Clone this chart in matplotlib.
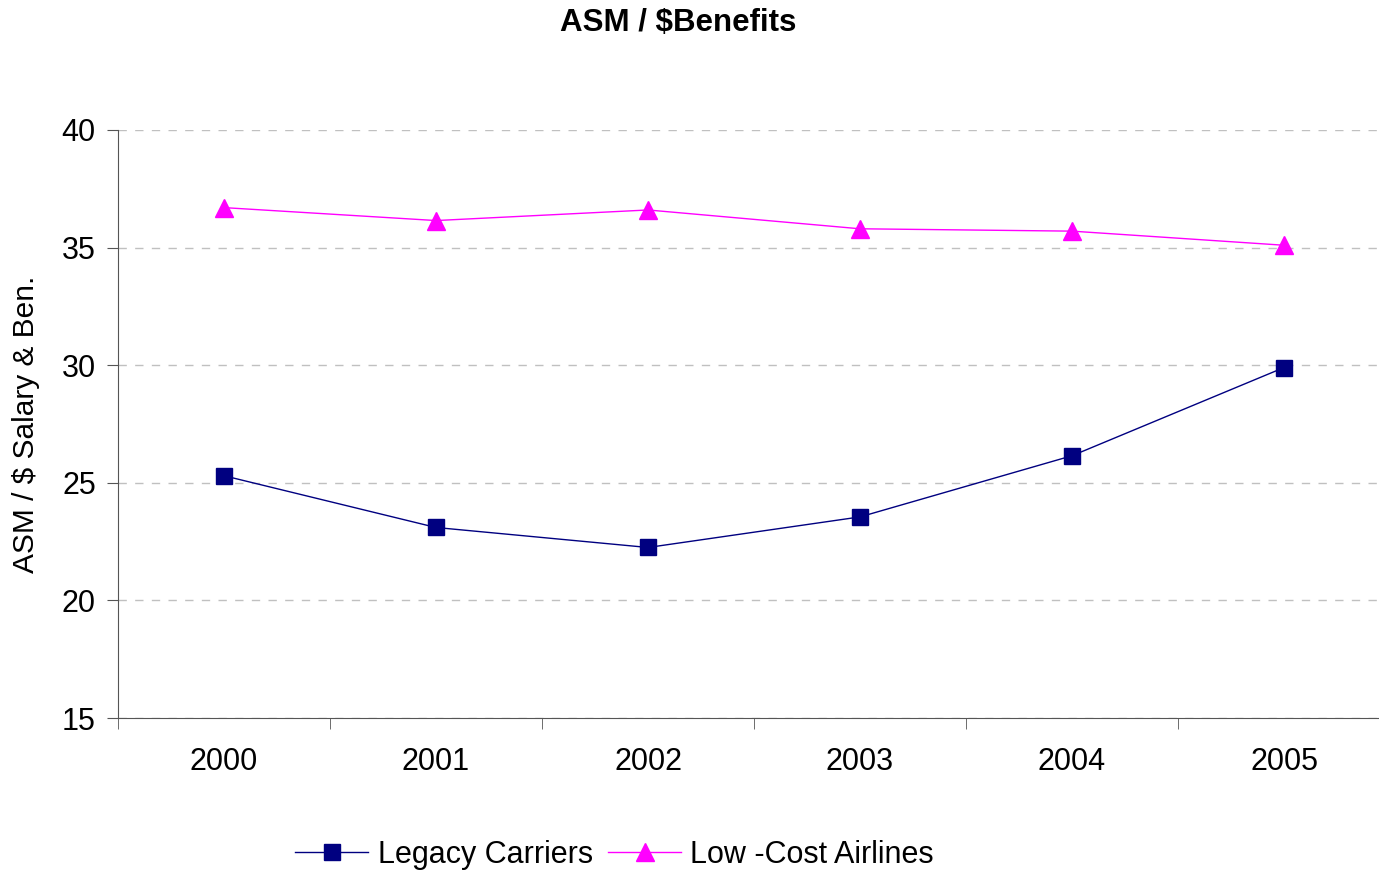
import matplotlib
matplotlib.use("Agg")
import matplotlib.pyplot as plt
import numpy as np

plt.rcParams['font.family'] = ['Liberation Sans', 'DejaVu Sans']

years = ['2000', '2001', '2002', '2003', '2004', '2005']
legacy = [25.3, 23.1, 22.25, 23.55, 26.15, 29.9]
low_cost = [36.7, 36.15, 36.6, 35.8, 35.7, 35.1]

fig = plt.figure(figsize=(13.79, 8.71), dpi=100)
ax = fig.add_axes([118 / 1379, 153 / 871, 1272 / 1379, 588 / 871])

x = np.arange(len(years))
ax.plot(x, legacy, color='#000080', linewidth=1, marker='s', markersize=11,
        label='Legacy Carriers')
ax.plot(x, low_cost, color='#FF00FF', linewidth=1, marker='^', markersize=13,
        label='Low -Cost Airlines')

ax.set_xlim(-0.5, len(years) - 0.5)
ax.set_ylim(15, 40)
ax.set_yticks([15, 20, 25, 30, 35, 40])

# category labels at centres, tick marks between categories
ax.set_xticks(x)
ax.set_xticklabels(years)
ax.set_xticks(np.arange(-0.5, len(years)), minor=True)
ax.tick_params(axis='x', which='major', length=0, pad=21, labelsize=22)
ax.tick_params(axis='x', which='minor', length=8, direction='out', color='#555555')
ax.tick_params(axis='y', length=8, direction='out', labelsize=22, pad=8,
               color='#555555')

ax.grid(axis='y', linestyle=(0, (6, 6)), color='#c0c0c0', linewidth=1)
ax.set_axisbelow(True)

for side in ['top', 'right']:
    ax.spines[side].set_visible(False)
for side in ['left', 'bottom']:
    ax.spines[side].set_color('#555555')

ax.set_ylabel('ASM / $ Salary & Ben.', fontsize=21.5)
ax.yaxis.set_label_coords(-78 / 1272, 0.5)
fig.text(0.492, 1 - 23 / 871, 'ASM / $Benefits', fontsize=22.5, fontweight='bold',
         ha='center', va='center')

fig.legend(loc='center left', bbox_to_anchor=(295 / 1379, 1 - 855 / 871), ncol=2,
           frameon=False, fontsize=22, handlelength=2.4, columnspacing=0.5,
           handletextpad=0.3, borderaxespad=0, borderpad=0)

fig.savefig('out.png', dpi=100)
